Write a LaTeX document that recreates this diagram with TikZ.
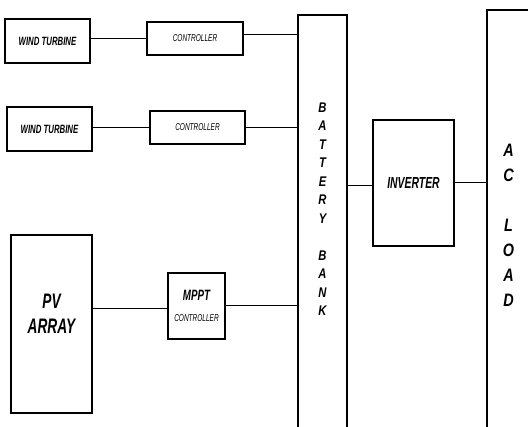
\documentclass[tikz,border=0pt]{standalone}
\usepackage{fontspec}
\setmainfont{Liberation Sans}
\newfontfamily\slim{Liberation Sans}[FakeStretch=0.65]
\newfontfamily\midslim{Liberation Sans}[FakeStretch=0.8]
\usetikzlibrary{positioning,calc}

\begin{document}
\begin{tikzpicture}[x=1pt, y=-1pt,
    block/.style={draw, line width=1.6pt, inner sep=0pt, align=center},
    wire/.style={line width=1pt},
    boldtxt/.style={font=\slim\bfseries\itshape\fontsize{#1}{#1}\selectfont},
    thintxt/.style={font=\slim\itshape\fontsize{10}{10}\selectfont}
]
\useasboundingbox (0,0) rectangle (528,427);
\clip (0,0) rectangle (528,427);

% ---- Sources ----
\node[block, boldtxt=12, minimum width=85pt, minimum height=44pt] (wt1) at (47.5,41) {WIND TURBINE};
\node[block, boldtxt=12, minimum width=85pt, minimum height=44pt] (wt2) at (49.5,129) {WIND TURBINE};
\node[block, minimum width=81pt, minimum height=178pt,
    label={[boldtxt=21, align=center, yshift=10pt]center:PV\\[4pt]ARRAY}] (pv) at (51.5,324) {};

% ---- Controllers ----
\node[block, thintxt, minimum width=96pt, minimum height=33pt] (ctrl1) at (195,38.5) {CONTROLLER};
\node[block, thintxt, minimum width=95pt, minimum height=33pt] (ctrl2) at (197.5,127.5) {CONTROLLER};
\node[block, minimum width=57pt, minimum height=66pt] (mppt) at (196.5,306)
    {{\slim\bfseries\itshape\fontsize{15}{15}\selectfont MPPT}\\[9pt]{\slim\itshape\fontsize{10}{10}\selectfont CONTROLLER}};

% ---- Storage, inverter, load ----
\node[block, minimum width=49pt, minimum height=425pt,
    label={[font=\midslim\bfseries\itshape\fontsize{14}{18.5}\selectfont, align=center, yshift=18.5pt]center:B\\A\\T\\T\\E\\R\\Y\\\mbox{}\\B\\A\\N\\K}] (bat) at (322.5,227.5) {};
\node[block, boldtxt=16, minimum width=81pt, minimum height=126pt] (inv) at (413.5,183) {INVERTER};
\node[block, font=\midslim\bfseries\itshape\fontsize{18}{25}\selectfont,
    minimum width=43pt, minimum height=430pt] (load) at (508.5,225) {A\\C\\\mbox{}\\L\\O\\A\\D};

% Wind branches
\draw[wire] (ctrl1.west) -- (ctrl1.west -| wt1.east);
\draw[wire] ([yshift=3.5pt]ctrl1.east) -- ([yshift=3.5pt]ctrl1.east -| bat.west);
\draw[wire] (ctrl2.west) -- (ctrl2.west -| wt2.east);
\draw[wire] (ctrl2.east) -- (ctrl2.east -| bat.west);

% PV branch
\draw[wire] ([yshift=-3pt]mppt.west) -- ([yshift=-3pt]mppt.west -| pv.east);
\draw[wire] (mppt.east) -- (mppt.east -| bat.west);

% Battery to load
\draw[wire] ([yshift=-3pt]inv.west) -- ([yshift=-3pt]inv.west -| bat.east);
\draw[wire] (inv.east) -- (inv.east -| load.west);
\end{tikzpicture}
\end{document}
